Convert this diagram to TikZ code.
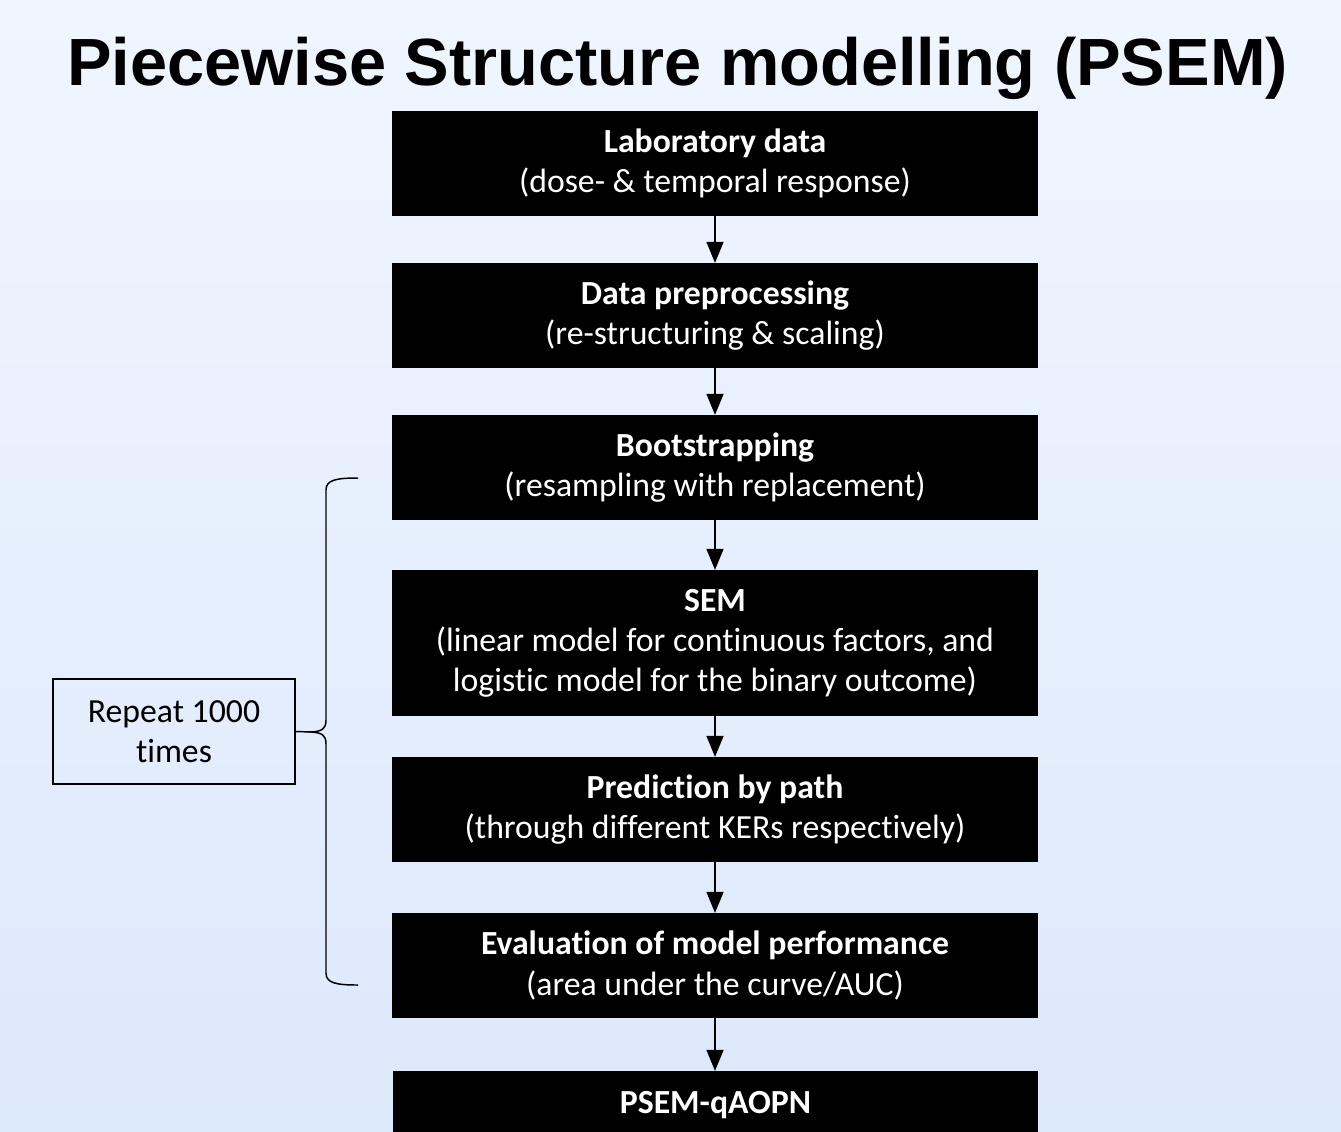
\documentclass[tikz,border=0pt]{standalone}
\usepackage{fontspec}
\setmainfont{Carlito}[Ligatures=NoCommon]
\newfontfamily\headfont{Liberation Sans}
\usetikzlibrary{arrows.meta}
\definecolor{bgtop}{HTML}{F0F6FF}
\definecolor{bgbot}{HTML}{DCE8FB}
\tikzset{
  stepbox/.style={fill=black, draw=none, text=white, align=center,
    minimum width=32.3cm, minimum height=5.25cm, inner sep=0pt,
    font=\fontsize{48}{57}\selectfont},
  flow/.style={line width=2.1pt, -{Triangle[width=0.85cm,length=1.05cm]}},
  note/.style={draw=black, line width=2pt, align=center, fill=none,
    minimum width=12.1cm, minimum height=5.25cm, inner sep=0pt,
    font=\fontsize{48}{57}\selectfont},
  bracket/.style={line width=2.1pt}
}
\begin{document}
\begin{tikzpicture}[x=0.05cm, y=-0.05cm]
  % page and background
  \useasboundingbox (0,0) rectangle (1341,1131);
  \clip (0,0) rectangle (1341,1131);
  \shade[top color=bgtop, bottom color=bgbot] (0,0) rectangle (1341,1131);

  % title
  \node[anchor=base, inner sep=0pt, font=\headfont\bfseries\fontsize{95}{100}\selectfont]
    (title) at (677.5,85) {Piecewise Structure modelling (PSEM)};

  % process steps
  \node[stepbox] (s1) at (715,163.5) {\textbf{Laboratory data}\\(dose- \& temporal response)};
  \node[stepbox] (s2) at (715,315.5) {\textbf{Data preprocessing}\\(re-structuring \& scaling)};
  \node[stepbox] (s3) at (715,467.5) {\textbf{Bootstrapping}\\(resampling with replacement)};
  \node[stepbox, minimum height=7.3cm] (s4) at (715,643)
    {\textbf{SEM}\\(linear model for continuous factors, and\\logistic model for the binary outcome)};
  \node[stepbox] (s5) at (715,809.5) {\textbf{Prediction by path}\\(through different KERs respectively)};
  \node[stepbox] (s6) at (715,965.5) {\textbf{Evaluation of model performance}\\(area under the curve/AUC)};
  \node[stepbox] (s7) at (715.5,1123.5) {};
  \node[text=white, inner sep=0pt, font=\bfseries\fontsize{48}{57}\selectfont]
    (s7t) at (715.5,1105) {PSEM-qAOPN};

  % arrows between steps
  \draw[flow] (s1) -- (s2);
  \draw[flow] (s2) -- (s3);
  \draw[flow] (s3) -- (s4);
  \draw[flow] (s4) -- (s5);
  \draw[flow] (s5) -- (s6);
  \draw[flow] (s6.south) -- (s7.north -| s6.south);

  % repeat note and brace
  \node[note] (rep) at (174,731.5) {Repeat 1000\\times};
  \coordinate (btop) at (358,478);
  \coordinate (bbot) at (358,985);
  \coordinate (btip) at (312,732);
  \draw[bracket] (btop) .. controls (336,478) and (326,480) .. (326,490)
    -- (326,720) .. controls (326,729) and (322,731) .. (btip)
    .. controls (322,733) and (326,735) .. (326,744)
    -- (326,973) .. controls (326,983) and (336,985) .. (bbot);
  \draw[bracket] (rep.east) -- (btip);
\end{tikzpicture}
\end{document}
